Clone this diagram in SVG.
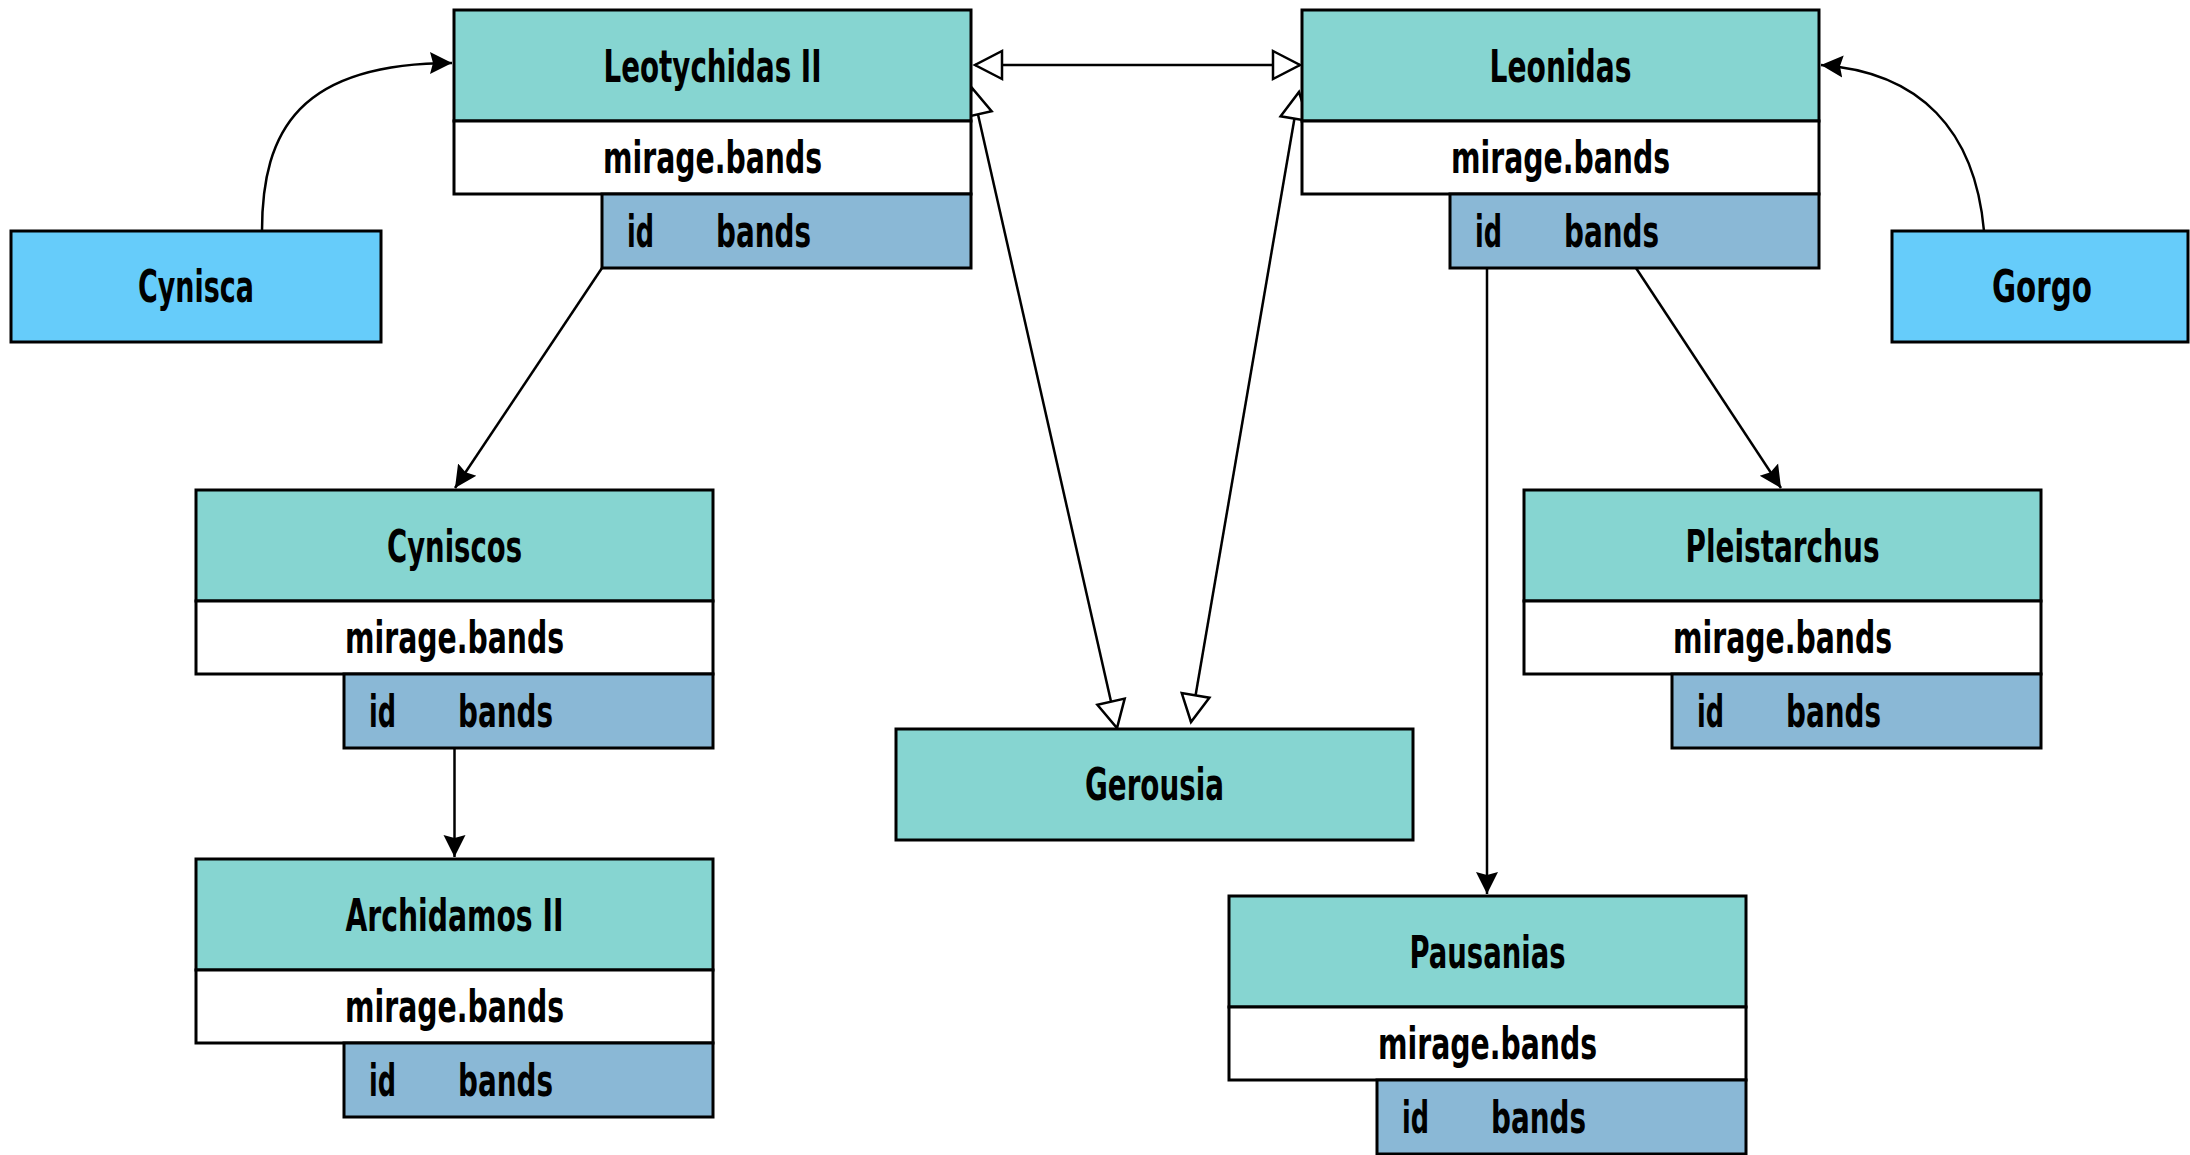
<svg xmlns="http://www.w3.org/2000/svg" width="2190" height="1155" viewBox="0 0 2190 1155">
<style>
.hd{fill:#86d5d1;stroke:#000;stroke-width:3}
.mr{fill:#fff;stroke:#000;stroke-width:3}
.ir{fill:#8ab8d6;stroke:#000;stroke-width:3}
.lb{fill:#66ccfa;stroke:#000;stroke-width:3}
text{font-family:'Liberation Sans Narrow','DejaVu Sans Condensed','Liberation Sans',sans-serif;font-weight:bold;font-size:44px;fill:#000}
.c{text-anchor:middle}
.ln{fill:none;stroke:#000;stroke-width:2.5}
</style>
<defs>
<marker id="fa" viewBox="0 0 24 24" markerWidth="24" markerHeight="24" refX="22" refY="12" orient="auto" markerUnits="userSpaceOnUse">
<path d="M0,1 L22,12 L0,23 L3,12 Z" fill="#000"/>
</marker>
<marker id="ha" viewBox="-3 -3 34 34" markerWidth="34" markerHeight="34" refX="27" refY="14" orient="auto-start-reverse" markerUnits="userSpaceOnUse">
<path d="M0,0 L27,14 L0,28 Z" fill="#fff" stroke="#000" stroke-width="2.5" stroke-linejoin="miter"/>
</marker>
</defs>

<g id="connectors">
<path class="ln" d="M262,231 C262,130 300,63 452,63" marker-end="url(#fa)"/>
<path class="ln" d="M1984,231 C1975,130 1920,72 1821,65" marker-end="url(#fa)"/>
<path class="ln" d="M602,268 L455,488" marker-end="url(#fa)"/>
<path class="ln" d="M454.5,749 L454.5,857" marker-end="url(#fa)"/>
<path class="ln" d="M1487,268 L1487,894" marker-end="url(#fa)"/>
<path class="ln" d="M1636,268 L1781,488" marker-end="url(#fa)"/>
<path class="ln" d="M975,65 L1300,65" marker-start="url(#ha)" marker-end="url(#ha)"/>
<path class="ln" d="M972,88 L1117,728" marker-start="url(#ha)" marker-end="url(#ha)"/>
<path class="ln" d="M1299,92 L1191,722" marker-start="url(#ha)" marker-end="url(#ha)"/>
</g>

<g id="leotychidas">
<rect class="hd" x="454" y="10" width="517" height="111"/>
<rect class="mr" x="454" y="121" width="517" height="73"/>
<rect class="ir" x="602" y="194" width="369" height="74"/>
<text class="c" x="712.5" y="82" textLength="218" lengthAdjust="spacingAndGlyphs">Leotychidas II</text>
<text class="c" x="712.5" y="173" textLength="219" lengthAdjust="spacingAndGlyphs">mirage.bands</text>
<text x="627" y="247" textLength="27" lengthAdjust="spacingAndGlyphs">id</text>
<text x="716" y="247" textLength="95" lengthAdjust="spacingAndGlyphs">bands</text>
</g>

<g id="leonidas">
<rect class="hd" x="1302" y="10" width="517" height="111"/>
<rect class="mr" x="1302" y="121" width="517" height="73"/>
<rect class="ir" x="1450" y="194" width="369" height="74"/>
<text class="c" x="1560.5" y="82" textLength="142" lengthAdjust="spacingAndGlyphs">Leonidas</text>
<text class="c" x="1560.5" y="173" textLength="219" lengthAdjust="spacingAndGlyphs">mirage.bands</text>
<text x="1475" y="247" textLength="27" lengthAdjust="spacingAndGlyphs">id</text>
<text x="1564" y="247" textLength="95" lengthAdjust="spacingAndGlyphs">bands</text>
</g>

<g id="cynisca">
<rect class="lb" x="11" y="231" width="370" height="111"/>
<text class="c" x="196" y="302" textLength="116" lengthAdjust="spacingAndGlyphs">Cynisca</text>
</g>

<g id="gorgo">
<rect class="lb" x="1892" y="231" width="296" height="111"/>
<text class="c" x="2042" y="302" textLength="100" lengthAdjust="spacingAndGlyphs">Gorgo</text>
</g>

<g id="cyniscos">
<rect class="hd" x="196" y="490" width="517" height="111"/>
<rect class="mr" x="196" y="601" width="517" height="73"/>
<rect class="ir" x="344" y="674" width="369" height="74"/>
<text class="c" x="454.5" y="562" textLength="135" lengthAdjust="spacingAndGlyphs">Cyniscos</text>
<text class="c" x="454.5" y="653" textLength="219" lengthAdjust="spacingAndGlyphs">mirage.bands</text>
<text x="369" y="727" textLength="27" lengthAdjust="spacingAndGlyphs">id</text>
<text x="458" y="727" textLength="95" lengthAdjust="spacingAndGlyphs">bands</text>
</g>

<g id="archidamos">
<rect class="hd" x="196" y="859" width="517" height="111"/>
<rect class="mr" x="196" y="970" width="517" height="73"/>
<rect class="ir" x="344" y="1043" width="369" height="74"/>
<text class="c" x="454.5" y="931" textLength="218" lengthAdjust="spacingAndGlyphs">Archidamos II</text>
<text class="c" x="454.5" y="1022" textLength="219" lengthAdjust="spacingAndGlyphs">mirage.bands</text>
<text x="369" y="1096" textLength="27" lengthAdjust="spacingAndGlyphs">id</text>
<text x="458" y="1096" textLength="95" lengthAdjust="spacingAndGlyphs">bands</text>
</g>

<g id="gerousia">
<rect class="hd" x="896" y="729" width="517" height="111"/>
<text class="c" x="1154.5" y="800" textLength="139" lengthAdjust="spacingAndGlyphs">Gerousia</text>
</g>

<g id="pleistarchus">
<rect class="hd" x="1524" y="490" width="517" height="111"/>
<rect class="mr" x="1524" y="601" width="517" height="73"/>
<rect class="ir" x="1672" y="674" width="369" height="74"/>
<text class="c" x="1782.5" y="562" textLength="194" lengthAdjust="spacingAndGlyphs">Pleistarchus</text>
<text class="c" x="1782.5" y="653" textLength="219" lengthAdjust="spacingAndGlyphs">mirage.bands</text>
<text x="1697" y="727" textLength="27" lengthAdjust="spacingAndGlyphs">id</text>
<text x="1786" y="727" textLength="95" lengthAdjust="spacingAndGlyphs">bands</text>
</g>

<g id="pausanias">
<rect class="hd" x="1229" y="896" width="517" height="111"/>
<rect class="mr" x="1229" y="1007" width="517" height="73"/>
<rect class="ir" x="1377" y="1080" width="369" height="74"/>
<text class="c" x="1487.5" y="968" textLength="156" lengthAdjust="spacingAndGlyphs">Pausanias</text>
<text class="c" x="1487.5" y="1059" textLength="219" lengthAdjust="spacingAndGlyphs">mirage.bands</text>
<text x="1402" y="1133" textLength="27" lengthAdjust="spacingAndGlyphs">id</text>
<text x="1491" y="1133" textLength="95" lengthAdjust="spacingAndGlyphs">bands</text>
</g>
</svg>
